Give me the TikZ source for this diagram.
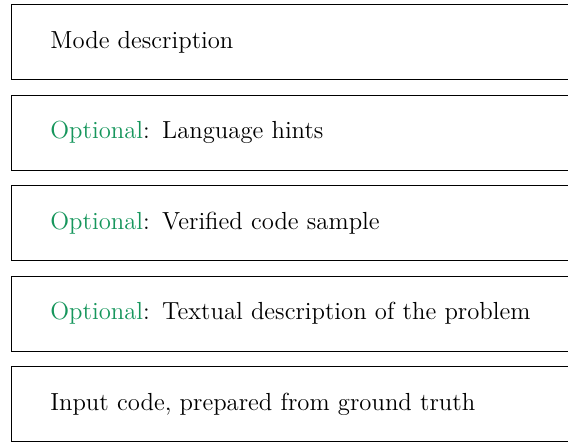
\documentclass[tikz,border=0pt]{standalone}
\usepackage{xcolor}
\usepackage{tikz}
\usetikzlibrary{positioning}
\definecolor{optgreen}{RGB}{22,150,92}

\newcommand{\optional}{\textcolor{optgreen}{Optional}: }

\begin{document}
\begin{tikzpicture}[
    promptbox/.style={draw, rectangle, anchor=north west, minimum width=285pt,
        minimum height=37.5pt, text width=246pt, inner xsep=19.5pt, inner ysep=0pt,
        align=left, font=\fontsize{12.35pt}{15pt}\selectfont},
    node distance=7.4pt
]
            \useasboundingbox (0,0) rectangle (284pt,221.5pt);
            \node[promptbox] (mode) at (5.5pt,219.5pt) {Mode description};
            \node[promptbox, below=of mode] (hints) {\optional Language hints};
            \node[promptbox, below=of hints] (sample) {\optional Verified code sample};
            \node[promptbox, below=of sample] (problem) {\optional Textual description of the problem};
            \node[promptbox, below=of problem] (input) {Input code, prepared from ground truth};
        \end{tikzpicture}
\end{document}
